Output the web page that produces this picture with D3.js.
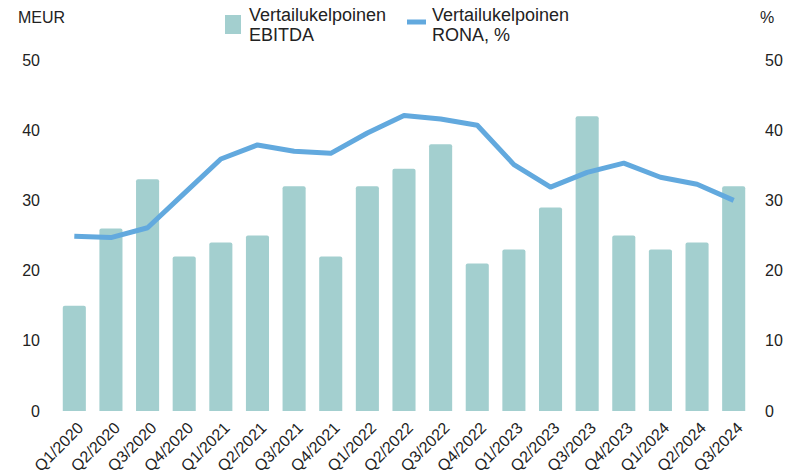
<!DOCTYPE html>
<html>
<head>
<meta charset="utf-8">
<script src="https://cdn.jsdelivr.net/npm/d3@7"></script>
<style>
    body { margin: 0; background: #fff; }
    svg { display: block; font-family: "Liberation Sans", Arial, sans-serif; }
</style>
</head>
<body>
<svg width="800" height="475"></svg>
<script>
const quarters = [
    "Q1/2020", "Q2/2020", "Q3/2020", "Q4/2020",
    "Q1/2021", "Q2/2021", "Q3/2021", "Q4/2021",
    "Q1/2022", "Q2/2022", "Q3/2022", "Q4/2022",
    "Q1/2023", "Q2/2023", "Q3/2023", "Q4/2023",
    "Q1/2024", "Q2/2024", "Q3/2024",
];
const ebitda = [15, 26, 33, 22, 24, 25, 32, 22, 32, 34.5, 38, 21, 23, 29, 42, 25, 23, 24, 32];
const rona = [24.9, 24.7, 26.1, 31, 35.9, 37.9, 37, 36.7, 39.6, 42.1, 41.6, 40.7, 35.1, 31.9, 34, 35.3, 33.3, 32.3, 30];
const yTicks = [0, 10, 20, 30, 40, 50];
const legendLabels = [
    ["Vertailukelpoinen", "EBITDA"],
    ["Vertailukelpoinen", "RONA, %"],
];

const barColor = "#a3cfcf";
const lineColor = "#62a9de";
const textColor = "#222";

const svg = d3.select("svg");

const x = d3.scaleBand().domain(quarters).range([56, 752]).paddingInner(0.37).paddingOuter(0.185);
const yLeft = d3.scaleLinear().domain([0, 50]).range([411, 60]);
const yRight = d3.scaleLinear().domain([0, 50]).range([411, 60]);

// bars
svg.append("g")
    .selectAll("path")
    .data(quarters)
    .enter()
    .append("path")
    .attr("fill", barColor)
    .attr("d", (q, i) => {
        const x0 = x(q), w = x.bandwidth();
        const y0 = yLeft(ebitda[i]), y1 = yLeft(0), r = 2;
        return `M${x0},${y1}V${y0 + r}Q${x0},${y0} ${x0 + r},${y0}H${x0 + w - r}Q${x0 + w},${y0} ${x0 + w},${y0 + r}V${y1}Z`;
    });

// line
const line = d3.line()
    .x((d, i) => x(quarters[i]) + x.bandwidth() / 2)
    .y((d) => yRight(d));

svg.append("path")
    .datum(rona)
    .attr("fill", "none")
    .attr("stroke", lineColor)
    .attr("stroke-width", 5)
    .attr("stroke-linejoin", "round")
    .attr("d", line);

// left axis
const leftAxis = svg.append("g")
    .attr("transform", "translate(40,0)")
    .call(d3.axisLeft(yLeft).tickValues(yTicks).tickSize(0).tickPadding(0));
leftAxis.select(".domain").remove();
leftAxis.selectAll("text").attr("font-size", 16).attr("fill", textColor).attr("font-family", null);

// right axis
const rightAxis = svg.append("g")
    .attr("transform", "translate(765,0)")
    .call(d3.axisRight(yRight).tickValues(yTicks).tickSize(0).tickPadding(0));
rightAxis.select(".domain").remove();
rightAxis.selectAll("text").attr("font-size", 16).attr("fill", textColor).attr("font-family", null);

// x labels
const xAxis = svg.append("g")
    .attr("transform", "translate(0,411)")
    .call(d3.axisBottom(x).tickSize(0).tickPadding(0));
xAxis.select(".domain").remove();
xAxis.selectAll("text")
    .attr("font-size", 16)
    .attr("fill", textColor)
    .attr("font-family", null)
    .attr("text-anchor", "end")
    .attr("dy", null)
    .attr("y", 0)
    .attr("transform", "translate(10,18) rotate(-45)");

// unit labels
svg.append("text").attr("x", 18).attr("y", 23).attr("font-size", 16).attr("fill", textColor).text("MEUR");
svg.append("text").attr("x", 760).attr("y", 23).attr("font-size", 16).attr("fill", textColor).text("%");

// legend
svg.append("rect").attr("x", 225).attr("y", 15).attr("width", 16).attr("height", 19).attr("fill", barColor);
svg.append("line").attr("x1", 407).attr("x2", 426).attr("y1", 22).attr("y2", 22)
    .attr("stroke", lineColor).attr("stroke-width", 5);

const legendX = [249, 432];
legendLabels.forEach((lines, i) => {
    const t = svg.append("text").attr("x", legendX[i]).attr("y", 21).attr("font-size", 18).attr("fill", textColor);
    lines.forEach((s, j) => {
        t.append("tspan").attr("x", legendX[i]).attr("dy", j === 0 ? 0 : 19.5).text(s);
    });
});
</script>
</body>
</html>
